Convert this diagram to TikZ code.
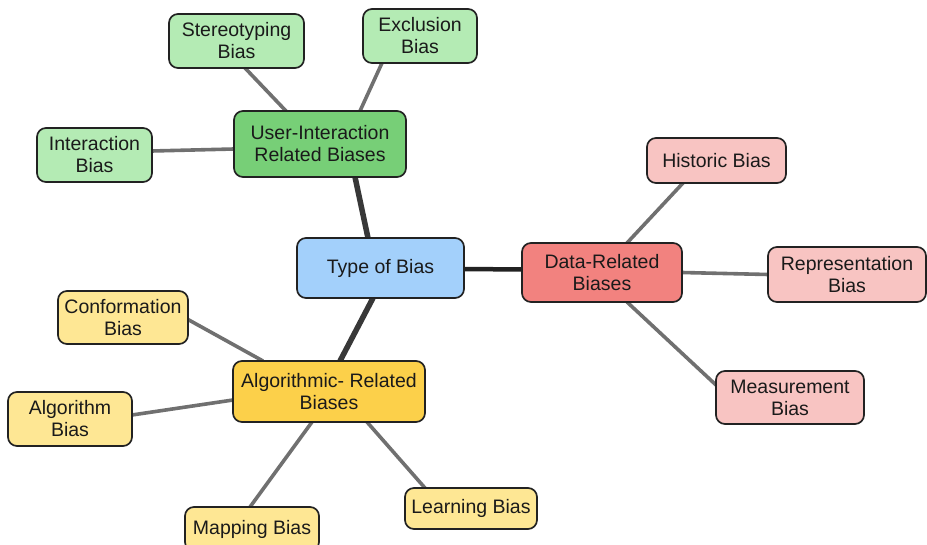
\documentclass[tikz,border=0pt]{standalone}
\usepackage{fontspec}
\setmainfont{Liberation Sans}
\usetikzlibrary{calc}
\pgfdeclarelayer{background}
\pgfsetlayers{background,main}
\definecolor{bordc}{HTML}{222222}
\definecolor{txtc}{HTML}{1A1A1A}
\definecolor{blueF}{HTML}{A3D0FB}
\definecolor{greenD}{HTML}{77CF77}
\definecolor{greenL}{HTML}{B4EBB4}
\definecolor{redD}{HTML}{F2827F}
\definecolor{redL}{HTML}{F8C4C2}
\definecolor{yelD}{HTML}{FCD04A}
\definecolor{yelL}{HTML}{FEE794}
\definecolor{mainln}{HTML}{383838}
\definecolor{subln}{HTML}{707070}
\tikzset{
  box/.style={draw=bordc, line width=1.7pt, rounded corners=9pt, inner sep=0pt, outer sep=0pt,
    align=center, text=txtc, font=\fontsize{19.5}{22}\selectfont},
  mainlink/.style={draw=mainln, line width=5.5pt},
  sublink/.style={draw=subln, line width=3.6pt},
}
\begin{document}
\begin{tikzpicture}[x=1pt,y=-1pt]
\useasboundingbox (0,0) rectangle (927,545);
% nodes
\node[box, fill=blueF, minimum width=167pt, minimum height=60pt] (type) at (380.5,268) {Type of Bias};
\node[box, fill=greenD, minimum width=172pt, minimum height=66pt] (user) at (320,144) {User-Interaction\\Related Biases};
\node[box, fill=greenL, minimum width=135pt, minimum height=54pt] (stereo) at (236.5,41) {Stereotyping\\Bias};
\node[box, fill=greenL, minimum width=114pt, minimum height=54pt] (excl) at (420,36) {Exclusion\\Bias};
\node[box, fill=greenL, minimum width=115pt, minimum height=54pt] (inter) at (94.5,155) {Interaction\\Bias};
\node[box, fill=redD, minimum width=160pt, minimum height=59pt] (data) at (602,272.5) {Data-Related\\Biases};
\node[box, fill=redL, minimum width=139pt, minimum height=45pt] (hist) at (716.5,160.5) {Historic Bias};
\node[box, fill=redL, minimum width=158pt, minimum height=55pt] (repr) at (847,274.5) {Representation\\Bias};
\node[box, fill=redL, minimum width=148pt, minimum height=53pt] (meas) at (790,397.5) {Measurement\\Bias};
\node[box, fill=yelD, minimum width=192pt, minimum height=61pt] (algo) at (329,391.5) {Algorithmic- Related\\Biases};
\node[box, fill=yelL, minimum width=130pt, minimum height=53pt] (conf) at (123,317.5) {Conformation\\Bias};
\node[box, fill=yelL, minimum width=124pt, minimum height=54pt] (algb) at (70,419) {Algorithm\\Bias};
\node[box, fill=yelL, minimum width=134pt, minimum height=44pt] (map) at (252,529) {Mapping Bias};
\node[box, fill=yelL, minimum width=132pt, minimum height=41pt] (learn) at (471,508.5) {Learning Bias};
% connectors
\begin{pgfonlayer}{background}
\fill[white] (0,0) rectangle (927,545);
\draw[mainlink] ($(user.south west)+(121,0)$) -- ($(type.north west)+(71,0)$);
\draw[mainlink, draw=bordc, line width=4.5pt] ($(type.east)+(0,1)$) -- ($(data.west)+(0,-3)$);
\draw[mainlink] ($(type.south west)+(76,0)$) -- ($(algo.north west)+(107,0)$);
\draw[sublink] ($(user.north west)+(52,0)$) -- ($(stereo.south west)+(76,0)$);
\draw[sublink] ($(user.north west)+(126,0)$) -- ($(excl.south west)+(19,0)$);
\draw[sublink] ($(user.west)+(0,5)$) -- ($(inter.east)+(0,-4)$);
\draw[sublink] ($(data.north west)+(105,0)$) -- ($(hist.south west)+(36,0)$);
\draw[sublink] (data.east) -- (repr.west);
\draw[sublink] ($(data.south west)+(105,0)$) -- ($(meas.west)+(0,-12.5)$);
\draw[sublink] ($(algo.north west)+(30,0)$) -- ($(conf.east)+(0,2)$);
\draw[sublink] ($(algo.west)+(0,8.5)$) -- ($(algb.east)+(0,-4)$);
\draw[sublink] ($(algo.south west)+(79,0)$) -- ($(map.north west)+(65,0)$);
\draw[sublink] ($(algo.south west)+(134,0)$) -- ($(learn.north west)+(20,0)$);
\end{pgfonlayer}
\end{tikzpicture}
\end{document}
